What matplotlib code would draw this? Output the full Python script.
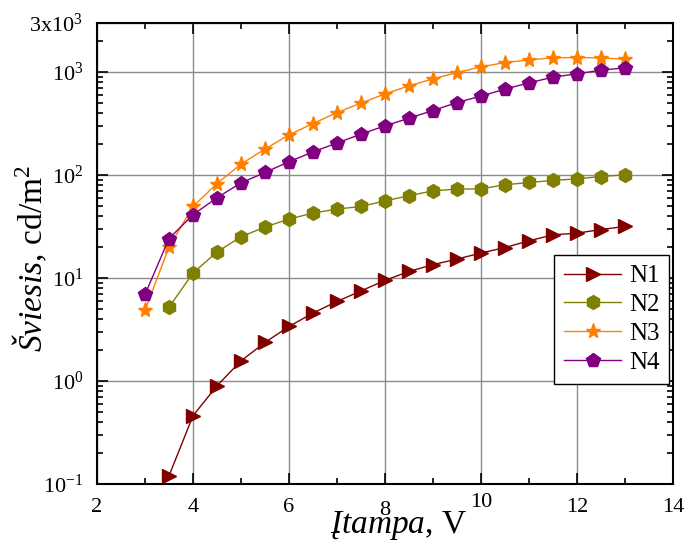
import matplotlib
matplotlib.use("Agg")
import matplotlib.pyplot as plt
import matplotlib.transforms as mtransforms
from matplotlib.ticker import FixedLocator, LogLocator, NullFormatter, MultipleLocator

plt.rcParams["font.family"] = ["Liberation Serif", "DejaVu Serif"]
plt.rcParams["mathtext.fontset"] = "custom"
plt.rcParams["mathtext.rm"] = "Liberation Serif"
plt.rcParams["mathtext.it"] = "Liberation Serif:italic"
plt.rcParams["mathtext.bf"] = "Liberation Serif:bold"

# Voltage (V)
v_n1 = [3.5, 4, 4.5, 5, 5.5, 6, 6.5, 7, 7.5, 8, 8.5, 9, 9.5, 10, 10.5, 11, 11.5, 12, 12.5, 13]
v_n2 = [3.5, 4, 4.5, 5, 5.5, 6, 6.5, 7, 7.5, 8, 8.5, 9, 9.5, 10, 10.5, 11, 11.5, 12, 12.5, 13]
v_n3 = [3, 3.5, 4, 4.5, 5, 5.5, 6, 6.5, 7, 7.5, 8, 8.5, 9, 9.5, 10, 10.5, 11, 11.5, 12, 12.5, 13]
v_n4 = [3, 3.5, 4, 4.5, 5, 5.5, 6, 6.5, 7, 7.5, 8, 8.5, 9, 9.5, 10, 10.5, 11, 11.5, 12, 12.5, 13]

# Luminance (cd/m^2)
l_n1 = [0.12, 0.46, 0.90, 1.57, 2.37, 3.39, 4.57, 5.93, 7.5, 9.5, 11.6, 13.5, 15.3, 17.5,
        19.8, 23.0, 26.3, 27.3, 29.6, 31.7]
l_n2 = [5.2, 11.2, 17.9, 25.2, 31.3, 37.4, 42.8, 46.8, 49.6, 56.2, 63.0, 70.4, 73.1, 73.6,
        80.5, 84.8, 88.7, 92.1, 96.9, 100.7]
l_n3 = [4.85, 20.0, 49.6, 82.8, 128, 179, 246, 317, 405, 500, 615, 736, 861, 991, 1125,
        1240, 1316, 1376, 1387, 1376, 1337]
l_n4 = [6.93, 24.2, 41.2, 60.3, 84.1, 106, 135, 168, 205, 250, 301, 357, 424, 507, 585,
        684, 787, 894, 963, 1045, 1101]

series_names = ["N1", "N2", "N3", "N4"]
x_ticks = [2, 4, 6, 8, 10, 12, 14]
y_ticks = [0.1, 1, 10, 100, 1000, 3000]
y_tick_labels = [r"$\mathregular{10^{-1}}$", r"$\mathregular{10^{0}}$", r"$\mathregular{10^{1}}$",
                 r"$\mathregular{10^{2}}$", r"$\mathregular{10^{3}}$", r"$\mathregular{3x10^{3}}$"]

fig = plt.figure(figsize=(6.85, 5.44), dpi=100)
ax = fig.add_axes([0.1416, 0.1103, 0.8409, 0.8474])

styles = [
    dict(color="#800000", marker=">", ms=10),
    dict(color="#808000", marker="h", ms=10),
    dict(color="#FF8000", marker="*", ms=11),
    dict(color="#800080", marker="p", ms=10),
]
data = [(v_n1, l_n1), (v_n2, l_n2), (v_n3, l_n3), (v_n4, l_n4)]
for (xv, yv), name, st in zip(data, series_names, styles):
    ax.plot(xv, yv, color=st["color"], marker=st["marker"], ms=st["ms"], lw=1.0,
            mec=st["color"], mfc=st["color"], label=name, zorder=3)

ax.set_yscale("log")
ax.set_xlim(2, 14)
ax.set_ylim(0.1, 3000)

ax.xaxis.set_major_locator(FixedLocator(x_ticks))
ax.xaxis.set_minor_locator(MultipleLocator(1))
ax.set_xticklabels([str(t) for t in x_ticks])
ax.yaxis.set_major_locator(FixedLocator(y_ticks))
ax.yaxis.set_minor_locator(LogLocator(base=10, subs=range(2, 10)))
ax.yaxis.set_minor_formatter(NullFormatter())
ax.set_yticklabels(y_tick_labels)

ax.grid(True, which="major", color="#8c8c8c", lw=1.0, zorder=0)
ax.set_axisbelow(True)

ax.tick_params(which="both", direction="in", top=True, right=True, labelsize=16,
               width=1.2, color="black")
ax.tick_params(which="major", length=8, pad=10)
ax.tick_params(which="minor", length=4)
for sp in ax.spines.values():
    sp.set_linewidth(1.5)

# nudge a couple of x labels so they clear the axis title
shifts = {"10": 5, "8": -3}
for lab in ax.get_xticklabels():
    dy = shifts.get(lab.get_text())
    if dy:
        lab.set_transform(lab.get_transform() +
                          mtransforms.ScaledTranslation(0, dy / 100, fig.dpi_scale_trans))

ax.set_xlabel(r"$\mathit{Įtampa}$, V", fontsize=24)
ax.xaxis.set_label_coords(0.523, -0.055)
ax.set_ylabel(r"$\mathit{Šviesis}$, cd/m$^{\mathregular{2}}$", fontsize=24)
ax.yaxis.set_label_coords(-0.082, 0.49)

leg = ax.legend(loc="upper left", bbox_to_anchor=(0.793, 0.497), fontsize=18,
                fancybox=False, framealpha=1, edgecolor="black", handlelength=2.3,
                borderpad=0.4, labelspacing=0.25, handletextpad=0.3, borderaxespad=0)
leg.get_frame().set_linewidth(1.0)

fig.savefig("out.png", dpi=100)
